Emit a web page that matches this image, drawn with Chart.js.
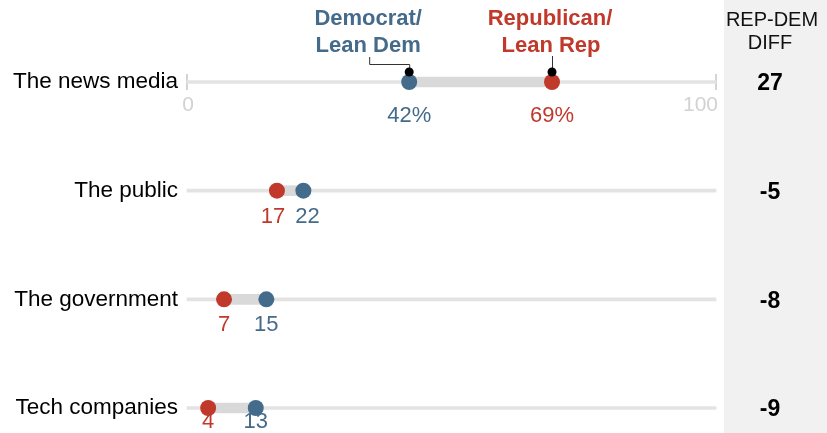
<!DOCTYPE html>
<html>
<head>
<meta charset="utf-8">
<script src="https://cdn.jsdelivr.net/npm/chart.js@4.4.0/dist/chart.umd.min.js"></script>
<style>
  html, body { margin: 0; padding: 0; background: #fff; }
  #wrap { width: 827px; height: 433px; position: relative; }
</style>
</head>
<body>
<div id="wrap"><canvas id="chart" width="827" height="433"></canvas></div>
<script>
// data
const categories = ["The news media", "The public", "The government", "Tech companies"];
const demValues = [42, 22, 15, 13];
const repValues = [69, 17, 7, 4];
const axisTicks = [0, 100];

const DEM = "#456b8b";
const REP = "#c0392b";
const FONT = "'Liberation Sans', Arial, sans-serif";

// gray panel + header on the right
const panelPlugin = {
  id: "panel",
  beforeDraw(chart) {
    const ctx = chart.ctx;
    ctx.save();
    ctx.fillStyle = "#f1f1f1";
    ctx.fillRect(724, 0, chart.width - 724, chart.height);
    ctx.fillStyle = "#111";
    ctx.font = "20px " + FONT;
    ctx.textAlign = "center";
    ctx.textBaseline = "middle";
    ctx.fillText("REP-DEM", 772, 20);
    ctx.fillText("DIFF", 770, 43);
    ctx.restore();
  }
};

// first-row axis ticks (0 / 100)
const axisPlugin = {
  id: "axisTicks",
  beforeDatasetsDraw(chart) {
    const { ctx, scales: { x, y } } = chart;
    const y0 = y.getPixelForValue(0);
    ctx.save();
    ctx.strokeStyle = "#d4d4d4";
    ctx.lineWidth = 2;
    ctx.fillStyle = "#d2d2d2";
    ctx.font = "21px " + FONT;
    ctx.textBaseline = "middle";
    axisTicks.forEach((t, k) => {
      const px = x.getPixelForValue(t);
      ctx.beginPath();
      ctx.moveTo(px, y0 - 8);
      ctx.lineTo(px, y0 + 8);
      ctx.stroke();
      ctx.textAlign = k === 0 ? "center" : "right";
      ctx.fillText(String(t), k === 0 ? px + 1 : px + 2, y0 + 23);
    });
    ctx.restore();
  }
};

// value labels, diff column and legend callouts
const labelPlugin = {
  id: "labels",
  afterDatasetsDraw(chart) {
    const { ctx, scales: { x, y } } = chart;
    ctx.save();
    ctx.textBaseline = "middle";

    categories.forEach((c, i) => {
      const py = y.getPixelForValue(i);
      const suffix = i === 0 ? "%" : "";
      ctx.font = "22px " + FONT;
      const items = [
        { text: demValues[i] + suffix, x: x.getPixelForValue(demValues[i]), color: DEM },
        { text: repValues[i] + suffix, x: x.getPixelForValue(repValues[i]), color: REP }
      ].sort((a, b) => a.x - b.x);
      items.forEach(it => { it.w = ctx.measureText(it.text).width; });
      const gap = 10;
      const overlap = (items[0].x + items[0].w / 2 + gap) - (items[1].x - items[1].w / 2);
      if (overlap > 0) {
        items[0].x -= overlap / 2;
        items[1].x += overlap / 2;
      }
      let ly = py + (i === 0 ? 34 : 26);
      ly = Math.min(ly, chart.height - 11);
      ctx.textAlign = "center";
      items.forEach(it => {
        ctx.fillStyle = it.color;
        ctx.fillText(it.text, it.x, ly);
      });

      // diff column
      ctx.fillStyle = "#000";
      ctx.font = "bold 23px " + FONT;
      ctx.fillText(String(repValues[i] - demValues[i]), 770, py + 2);
    });

    // legend callouts on first row
    const y0 = y.getPixelForValue(0);
    const dx = x.getPixelForValue(demValues[0]);
    const rx = x.getPixelForValue(repValues[0]);
    ctx.font = "bold 22px " + FONT;
    ctx.textAlign = "center";
    ctx.fillStyle = DEM;
    ctx.fillText("Democrat/", dx - 41, 19);
    ctx.fillText("Lean Dem", dx - 41, 46);
    ctx.fillStyle = REP;
    ctx.fillText("Republican/", rx - 2, 19);
    ctx.fillText("Lean Rep", rx - 1, 46);

    ctx.strokeStyle = "#333";
    ctx.lineWidth = 1;
    ctx.beginPath();
    ctx.moveTo(dx - 39.5, 57);
    ctx.lineTo(dx - 39.5, 64.5);
    ctx.lineTo(dx + 0.5, 64.5);
    ctx.lineTo(dx + 0.5, y0 - 10);
    ctx.moveTo(rx + 0.5, 56);
    ctx.lineTo(rx + 0.5, y0 - 10);
    ctx.stroke();
    ctx.fillStyle = "#000";
    [dx, rx].forEach(px => {
      ctx.beginPath();
      ctx.arc(px, y0 - 10, 4.5, 0, Math.PI * 2);
      ctx.fill();
    });
    ctx.restore();
  }
};

new Chart(document.getElementById("chart"), {
  type: "bar",
  data: {
    labels: categories,
    datasets: [
      {
        type: "line",
        data: categories.map((c, i) => ({ x: demValues[i], y: c })),
        showLine: false,
        pointRadius: 8,
        pointHoverRadius: 8,
        pointBackgroundColor: DEM,
        pointBorderWidth: 0,
        clip: false,
        order: 0
      },
      {
        type: "line",
        data: categories.map((c, i) => ({ x: repValues[i], y: c })),
        showLine: false,
        pointRadius: 8,
        pointHoverRadius: 8,
        pointBackgroundColor: REP,
        pointBorderWidth: 0,
        clip: false,
        order: 1
      },
      {
        data: categories.map((c, i) => [repValues[i], demValues[i]]),
        backgroundColor: "#d9d9d9",
        barThickness: 10,
        grouped: false,
        borderWidth: 0,
        clip: false,
        order: 2
      },
      {
        data: categories.map(() => [axisTicks[0], axisTicks[1]]),
        backgroundColor: "#e3e3e3",
        barThickness: 3,
        grouped: false,
        borderWidth: 0,
        clip: false,
        order: 3
      }
    ]
  },
  options: {
    indexAxis: "y",
    responsive: false,
    animation: false,
    devicePixelRatio: 1,
    layout: { padding: { top: 82, bottom: 25, right: 111, left: 0 } },
    plugins: { legend: { display: false }, tooltip: { enabled: false } },
    events: [],
    scales: {
      x: { type: "linear", min: 0, max: 100, display: false },
      y: {
        type: "category",
        offset: false,
        grid: { display: false, drawTicks: false },
        border: { display: false },
        ticks: { color: "#000", font: { family: FONT, size: 22.5 }, padding: 9 },
        afterFit(scale) { scale.width = 187; }
      }
    }
  },
  plugins: [panelPlugin, axisPlugin, labelPlugin]
});
</script>
</body>
</html>
